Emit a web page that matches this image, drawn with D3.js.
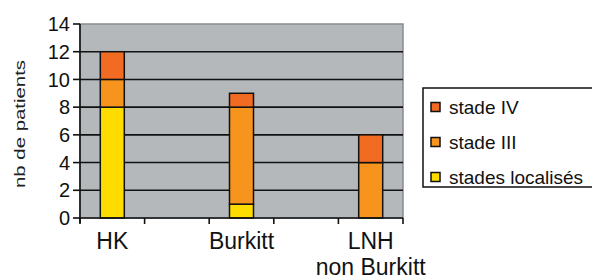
<!DOCTYPE html>
<html>
<head>
<meta charset="utf-8">
<script src="https://cdn.jsdelivr.net/npm/d3@7"></script>
<style>
  body { margin: 0; background: #fff; }
  svg { display: block; font-family: "Liberation Sans", Arial, sans-serif; }
</style>
</head>
<body>
<svg id="chart" width="592" height="280"></svg>
<script>
// slots on the x axis: empty ones keep the gaps between groups
const slots = ["HK", "gap1", "Burkitt", "gap2", "LNH"];
const labels = { HK: ["HK"], Burkitt: ["Burkitt"], LNH: ["LNH", "non Burkitt"] };
const groups = ["HK", "Burkitt", "LNH"];

const localises = [8, 1, 0];
const stadeIII = [2, 7, 4];
const stadeIV = [2, 1, 2];

const seriesNames = ["stades localisés", "stade III", "stade IV"];
const yTicks = [0, 2, 4, 6, 8, 10, 12, 14];

const colors = { "stades localisés": "#ffdc00", "stade III": "#f7941e", "stade IV": "#f26b22" };

const margin = { top: 24, left: 80 };
const width = 323, height = 194;

const svg = d3.select("#chart");
const g = svg.append("g").attr("transform", `translate(${margin.left},${margin.top})`);

const x = d3.scaleBand().domain(slots).range([0, width]);
const y = d3.scaleLinear().domain([0, 14]).range([height, 0]);

// plot background
g.append("rect")
  .attr("x", 0).attr("y", 0).attr("width", width).attr("height", height)
  .style("fill", "#b4b8bb").style("stroke", "#888d90").style("stroke-width", 1.5);

// grid
g.selectAll(".grid")
  .data(yTicks.filter(d => d > 0 && d < 14))
  .enter().append("line")
  .attr("x1", 0).attr("x2", width)
  .attr("y1", d => y(d)).attr("y2", d => y(d))
  .style("stroke", "#111").style("stroke-width", 1.6);

// stacked bars
const table = groups.map((k, i) => ({
  key: k,
  "stades localisés": localises[i],
  "stade III": stadeIII[i],
  "stade IV": stadeIV[i]
}));
const stack = d3.stack().keys(seriesNames)(table);
const bw = 24;

stack.forEach(layer => {
  g.selectAll()
    .data(layer.filter(d => d[1] > d[0]))
    .enter().append("rect")
    .attr("x", d => x(d.data.key) + (x.bandwidth() - bw) / 2)
    .attr("y", d => y(d[1]))
    .attr("width", bw)
    .attr("height", d => y(d[0]) - y(d[1]))
    .style("fill", colors[layer.key])
    .style("stroke", "#111").style("stroke-width", 1.5);
});

// y axis
g.append("line").attr("x1", 0).attr("x2", 0).attr("y1", 0).attr("y2", height + 5)
  .style("stroke", "#111").style("stroke-width", 1.6);
g.selectAll(".ytick")
  .data(yTicks).enter().append("line")
  .attr("x1", -7).attr("x2", 0)
  .attr("y1", d => y(d)).attr("y2", d => y(d))
  .style("stroke", "#111").style("stroke-width", 1.6);
g.selectAll(".ylab")
  .data(yTicks).enter().append("text")
  .attr("x", -10).attr("y", d => y(d))
  .attr("dy", "0.36em")
  .attr("text-anchor", "end")
  .style("font-size", "20px").style("fill", "#111")
  .text(d => d);

// x axis, ticks on slot boundaries
g.append("line").attr("x1", 0).attr("x2", width).attr("y1", height).attr("y2", height)
  .style("stroke", "#111").style("stroke-width", 1.6);
g.selectAll(".xtick")
  .data(slots.map(s => x(s)).concat([width])).enter().append("line")
  .attr("x1", d => d).attr("x2", d => d)
  .attr("y1", height).attr("y2", height + 6)
  .style("stroke", "#111").style("stroke-width", 1.6);

// category labels, one text per line so nothing overlaps
groups.forEach(k => {
  labels[k].forEach((line, i) => {
    g.append("text")
      .attr("x", x(k) + x.bandwidth() / 2)
      .attr("y", height + 31 + i * 26)
      .attr("text-anchor", "middle")
      .style("font-size", "23px").style("fill", "#111")
      .text(line);
  });
});

// y title
svg.append("text")
  .attr("transform", "translate(25,124) rotate(-90)")
  .attr("text-anchor", "middle")
  .attr("textLength", 128)
  .attr("lengthAdjust", "spacingAndGlyphs")
  .style("font-size", "15px").style("fill", "#222")
  .text("nb de patients");

// legend
const legend = svg.append("g").attr("transform", "translate(423,88)");
legend.append("rect")
  .attr("x", 0).attr("y", 0).attr("width", 175).attr("height", 99)
  .style("fill", "#fff").style("stroke", "#111").style("stroke-width", 1.5);
const legendItems = ["stade IV", "stade III", "stades localisés"];
const item = legend.selectAll(".item")
  .data(legendItems).enter().append("g")
  .attr("transform", (d, i) => `translate(8,${19 + i * 35})`);
item.append("rect")
  .attr("x", 0).attr("y", -4.5).attr("width", 9).attr("height", 9)
  .style("fill", d => colors[d]).style("stroke", "#111").style("stroke-width", 1.5);
item.append("text")
  .attr("x", 18).attr("y", 0).attr("dy", "0.36em")
  .style("font-size", "19px").style("fill", "#111")
  .text(d => d);
</script>
</body>
</html>
